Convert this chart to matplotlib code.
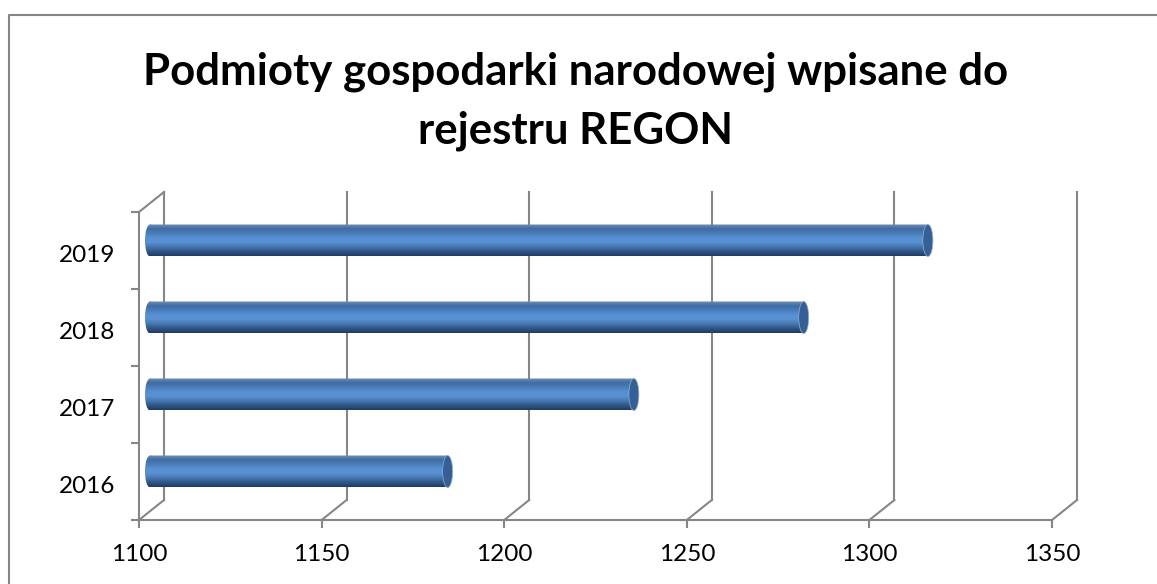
#!/usr/bin/env python3
"""Pseudo-3D cylinder bar chart of REGON registrations."""

import matplotlib

matplotlib.use("Agg")
import matplotlib.pyplot as plt
import numpy as np
from matplotlib.colors import LinearSegmentedColormap
from matplotlib.lines import Line2D
from matplotlib.patches import Ellipse
from matplotlib.path import Path
from matplotlib.transforms import Affine2D, IdentityTransform

TITLE = "Podmioty gospodarki narodowej wpisane do\nrejestru REGON"
YEARS = ["2016", "2017", "2018", "2019"]
VALUES = [1181.5, 1232.5, 1279, 1313]
X_TICKS = [1100, 1150, 1200, 1250, 1300, 1350]

W, H = 1157, 584
LINE = "#868686"
LW = 1.5
BAR_COLORS = ["#6f8fb6", "#3f6ca3", "#4a7db9", "#5890d3", "#5a91d4", "#4677b0", "#305788", "#203c62"]
CAP_COLOR = "#365f93"


def px_line(fig, xs, ys):
    fig.add_artist(Line2D([x / W for x in xs], [1 - y / H for y in ys], color=LINE, lw=LW, transform=fig.transFigure))


def main():
    plt.rcParams["font.family"] = ["Lato", "DejaVu Sans"]
    fig = plt.figure(figsize=(W / 100, H / 100), dpi=100, facecolor="white")
    ax = fig.add_axes([139 / W, 1 - 520 / H, (1052 - 139) / W, (520 - 212) / H])
    ax.patch.set_alpha(0)

    # outer chart frame, only top and left are inside the crop
    px_line(fig, [9, 9, W], [H, 15, 15])

    back_tr = ax.transData + Affine2D().translate(25, 20)
    mid_tr = ax.transData + Affine2D().translate(11, 10)
    n = len(YEARS)

    ax.set_xlim(X_TICKS[0], X_TICKS[-1])
    ax.set_ylim(0, n)

    def diagonal(x, y):
        p0 = ax.transData.transform((x, y))
        p1 = back_tr.transform((x, y))
        ax.plot([p0[0], p1[0]], [p0[1], p1[1]], color=LINE, lw=LW, transform=IdentityTransform(), clip_on=False, zorder=1)

    # back wall lines and floor diagonals
    for tick in X_TICKS:
        ax.plot([tick, tick], [0, n], color=LINE, lw=LW, transform=back_tr, clip_on=False, zorder=1)
        diagonal(tick, 0)
    diagonal(X_TICKS[0], n)

    cmap = LinearSegmentedColormap.from_list("cyl", BAR_COLORS)
    grad = np.linspace(0, 1, 64).reshape(-1, 1)
    half_h = 16 / (308 / n)
    half_w = 5 / (913 / 250)
    for i, value in enumerate(VALUES):
        yc = i + 0.5
        left = X_TICKS[0]
        im = ax.imshow(
            grad,
            cmap=cmap,
            aspect="auto",
            extent=(left - half_w, value, yc - half_h, yc + half_h),
            origin="upper",
            transform=mid_tr,
            zorder=3,
            interpolation="bilinear",
        )
        rect = Path([(left, yc - half_h), (value, yc - half_h), (value, yc + half_h), (left, yc + half_h), (left, yc - half_h)])
        oval = Path.unit_circle().transformed(Affine2D().scale(half_w, half_h).translate(left, yc))
        im.set_clip_path(Path.make_compound_path(rect, oval), mid_tr)
        cap = Ellipse((value, yc), 2 * half_w, 2 * half_h, transform=mid_tr, facecolor=CAP_COLOR, edgecolor="#8fb0d8", lw=0.5, zorder=4, clip_on=False)
        ax.add_patch(cap)

    ax.set_xlim(X_TICKS[0], X_TICKS[-1])
    ax.set_ylim(0, n)
    ax.set_xticks(X_TICKS)
    ax.set_yticks(range(n + 1))
    ax.set_yticklabels([])
    ax.set_yticks([i + 0.46 for i in range(n)], labels=YEARS, minor=True)
    ax.tick_params(axis="both", which="major", length=6, width=LW, color=LINE, labelsize=17.5, labelcolor="black", pad=11)
    ax.tick_params(axis="y", which="minor", length=0, labelsize=17.5, labelcolor="black", pad=17)
    ax.spines[["top", "right"]].set_visible(False)
    ax.spines[["left", "bottom"]].set_color(LINE)
    ax.spines[["left", "bottom"]].set_linewidth(LW)

    fig.text(576 / W, 1 - 101 / H, TITLE, ha="center", va="center", fontsize=31.5, fontweight="bold", color="black", linespacing=1.55)

    fig.savefig("out.png", dpi=100)
    plt.close(fig)


if __name__ == "__main__":
    main()
